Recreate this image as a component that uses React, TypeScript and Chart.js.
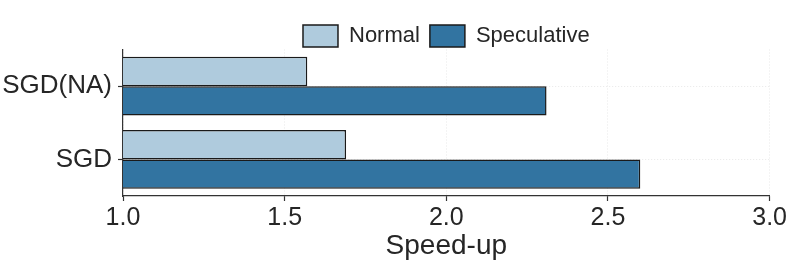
import React, { useEffect, useRef } from "react";
import { Chart, registerables } from "chart.js";

Chart.register(...registerables);

const categories = ["SGD(NA)", "SGD"];
const normalValues = [1.57, 1.69];
const speculativeValues = [2.31, 2.6];
const seriesLabels = ["Normal", "Speculative"];
const xTicks = [1.0, 1.5, 2.0, 2.5, 3.0];

const FONT = "'Liberation Sans', Arial, Helvetica, sans-serif";
const TEXT = "#262626";

export default function App() {
  const ref = useRef<HTMLCanvasElement | null>(null);

  useEffect(() => {
    if (!ref.current) return;
    const chart = new Chart(ref.current, {
      type: "bar",
      data: {
        labels: categories,
        datasets: [
          {
            label: seriesLabels[0],
            data: normalValues,
            backgroundColor: "#afcbdd",
            borderColor: "#1a1a1a",
            borderWidth: 1.5,
            borderSkipped: false,
            categoryPercentage: 0.8,
            barPercentage: 1.0,
          },
          {
            label: seriesLabels[1],
            data: speculativeValues,
            backgroundColor: "#3274a1",
            borderColor: "#1a1a1a",
            borderWidth: 1.5,
            borderSkipped: false,
            categoryPercentage: 0.8,
            barPercentage: 1.0,
          },
        ],
      },
      options: {
        indexAxis: "y",
        animation: false,
        responsive: true,
        maintainAspectRatio: false,
        layout: { padding: { left: 0, right: 18, top: 15, bottom: 0 } },
        plugins: {
          tooltip: { enabled: false },
          legend: {
            position: "top",
            fullSize: false,
            maxHeight: 34.5,
            labels: {
              boxWidth: 35,
              boxHeight: 22,
              padding: 10,
              color: TEXT,
              font: { family: FONT, size: 22 },
            },
          },
        },
        scales: {
          x: {
            type: "linear",
            min: 1,
            max: 3,
            afterFit: (s: any) => {
              s.height = 67;
            },
            afterBuildTicks: (s: any) => {
              s.ticks = xTicks.map((v) => ({ value: v }));
            },
            ticks: {
              color: TEXT,
              font: { family: FONT, size: 25 },
              padding: 2,
              maxRotation: 0,
              callback: (v: any) => Number(v).toFixed(1),
            },
            grid: {
              color: "#e8e8e8",
              lineWidth: 1,
              tickLength: 5,
              tickColor: "#333333",
              tickWidth: 1.2,
            },
            border: { display: true, color: "#333333", width: 1.2, dash: [1, 2] },
            title: {
              display: true,
              text: "Speed-up",
              color: TEXT,
              font: { family: FONT, size: 28 },
              padding: { top: 0, bottom: 0 },
            },
          },
          y: {
            type: "category",
            afterFit: (s: any) => {
              s.width = 123;
            },
            ticks: {
              color: TEXT,
              font: { family: FONT, size: 26 },
              padding: 6,
            },
            grid: {
              offset: false,
              color: "#e8e8e8",
              lineWidth: 1,
              tickLength: 5,
              tickColor: "#333333",
              tickWidth: 1.2,
            },
            border: { display: true, color: "#333333", width: 1.2, dash: [1, 2] },
          },
        },
      },
    });
    return () => chart.destroy();
  }, []);

  return (
    <div style={{ position: "fixed", left: 0, top: 0, width: 789, height: 263, background: "#fff" }}>
      <canvas ref={ref} />
    </div>
  );
}
